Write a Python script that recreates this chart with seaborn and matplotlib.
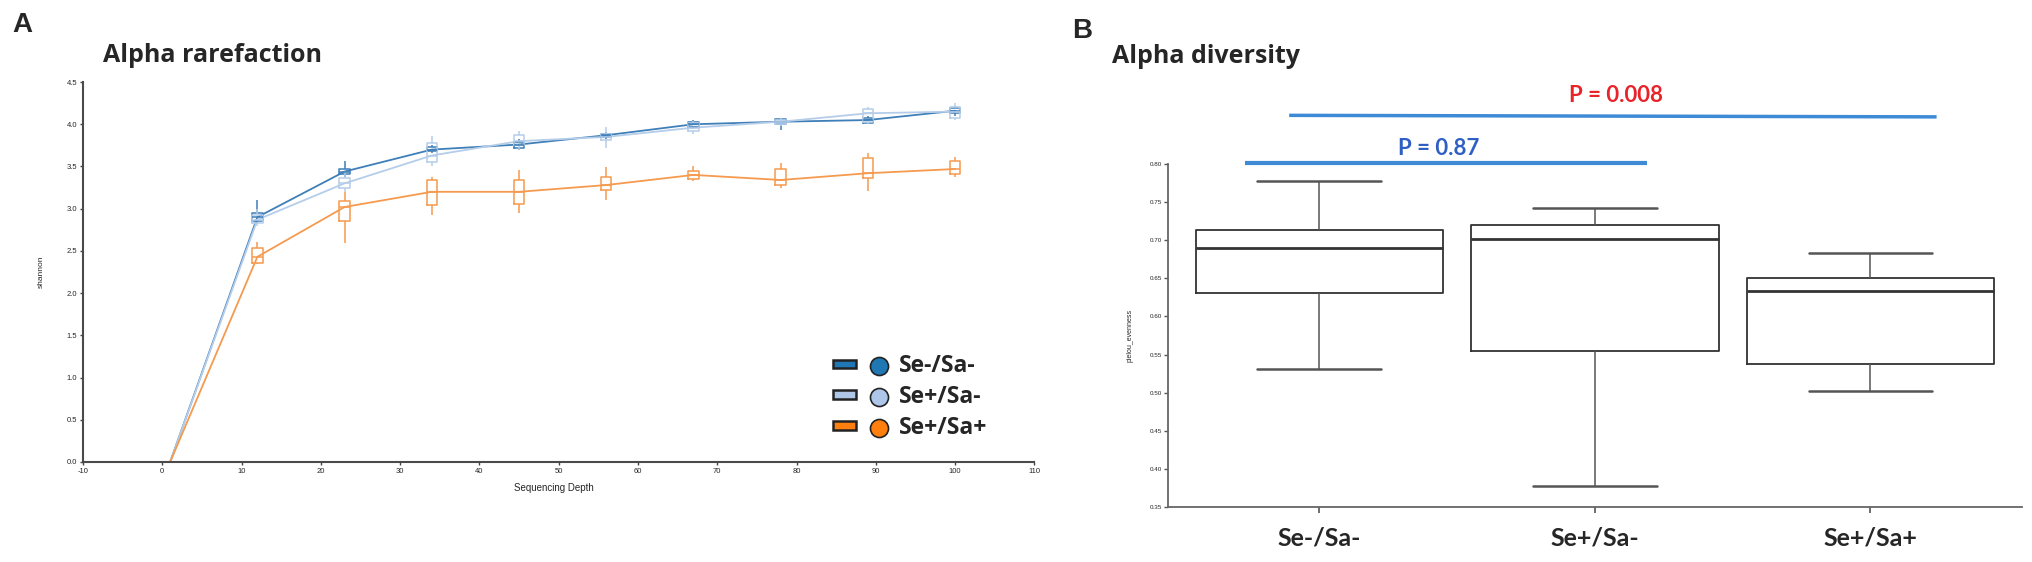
import numpy as np
import pandas as pd
import seaborn as sns
import matplotlib.pyplot as plt
from matplotlib.patches import Patch
from matplotlib.lines import Line2D
from matplotlib.legend_handler import HandlerTuple


GROUPS = ["Se-/Sa-", "Se+/Sa-", "Se+/Sa+"]
GROUP_COLORS = ["#1f77b4", "#aec7e8", "#ff7f0e"]
LINE_COLORS = ["#3f7fb8", "#b5cde9", "#f59a4e"]

# panel A: rarefaction, box summaries at each depth
DEPTHS = [12, 23, 34, 45, 56, 67, 78, 89, 100]
START_DEPTH = 1

SEM_MED = [2.90, 3.44, 3.70, 3.76, 3.87, 4.00, 4.03, 4.05, 4.16]
SEM_Q1 = [2.86, 3.41, 3.68, 3.72, 3.85, 3.97, 4.00, 4.02, 4.13]
SEM_Q3 = [2.95, 3.47, 3.73, 3.79, 3.89, 4.03, 4.06, 4.08, 4.19]
SEM_LO = [2.83, 3.38, 3.66, 3.70, 3.83, 3.95, 3.93, 4.00, 4.10]
SEM_HI = [3.10, 3.56, 3.76, 3.82, 3.91, 4.05, 4.08, 4.10, 4.22]

SEP_MED = [2.87, 3.30, 3.63, 3.80, 3.85, 3.96, 4.03, 4.13, 4.15]
SEP_Q1 = [2.83, 3.24, 3.55, 3.75, 3.81, 3.92, 4.00, 4.03, 4.08]
SEP_Q3 = [2.93, 3.36, 3.78, 3.87, 3.88, 4.01, 4.05, 4.18, 4.20]
SEP_LO = [2.80, 3.20, 3.50, 3.70, 3.72, 3.89, 3.98, 4.00, 4.05]
SEP_HI = [3.00, 3.45, 3.86, 3.92, 3.97, 4.04, 4.07, 4.20, 4.25]

SPP_MED = [2.43, 3.02, 3.20, 3.20, 3.28, 3.40, 3.34, 3.42, 3.47]
SPP_Q1 = [2.36, 2.85, 3.04, 3.05, 3.22, 3.35, 3.28, 3.36, 3.41]
SPP_Q3 = [2.54, 3.09, 3.34, 3.34, 3.37, 3.45, 3.47, 3.60, 3.56]
SPP_LO = [2.34, 2.59, 2.93, 2.95, 3.10, 3.33, 3.25, 3.21, 3.37]
SPP_HI = [2.60, 3.20, 3.38, 3.46, 3.49, 3.50, 3.54, 3.66, 3.61]

# panel B: pielou evenness box summaries (lo, q1, median, q3, hi)
EVEN_LO = [0.531, 0.378, 0.502]
EVEN_Q1 = [0.631, 0.555, 0.538]
EVEN_MED = [0.690, 0.702, 0.634]
EVEN_Q3 = [0.713, 0.720, 0.650]
EVEN_HI = [0.778, 0.742, 0.683]


def _five_rows(lo, q1, med, q3, hi):
    # five values whose quartiles / extremes reproduce the box summary
    return [lo, q1, med, q3, hi]


sns.set_theme(style="ticks")
plt.rcParams["font.family"] = ["Liberation Sans", "DejaVu Sans"]

fig = plt.figure(figsize=(20.33, 5.62), dpi=100)
axA = fig.add_axes([0.0408, 0.178, 0.468, 0.676])
axB = fig.add_axes([0.5745, 0.098, 0.4201, 0.610])

# ---------------- panel A ----------------
summary = {
    "Se-/Sa-": (SEM_LO, SEM_Q1, SEM_MED, SEM_Q3, SEM_HI),
    "Se+/Sa-": (SEP_LO, SEP_Q1, SEP_MED, SEP_Q3, SEP_HI),
    "Se+/Sa+": (SPP_LO, SPP_Q1, SPP_MED, SPP_Q3, SPP_HI),
}
rows = []
line_rows = []
for g in GROUPS:
    lo, q1, med, q3, hi = summary[g]
    line_rows.append({"depth": START_DEPTH, "shannon": 0.0, "group": g})
    for i, d in enumerate(DEPTHS):
        for v in _five_rows(lo[i], q1[i], med[i], q3[i], hi[i]):
            rows.append({"depth": d, "shannon": v, "group": g})
        line_rows.append({"depth": d, "shannon": med[i], "group": g})
dfa = pd.DataFrame(rows)
dfl = pd.DataFrame(line_rows)

sns.lineplot(data=dfl, x="depth", y="shannon", hue="group", hue_order=GROUPS,
             palette=LINE_COLORS, linewidth=1.3, legend=False, ax=axA)
sns.boxplot(data=dfa, x="depth", y="shannon", hue="group", hue_order=GROUPS,
            palette=LINE_COLORS, native_scale=True, dodge=False, fill=False,
            width=0.12, whis=(0, 100), linewidth=1.1, capwidths=0,
            legend=False, ax=axA)

axA.set_xlim(-10, 110)
axA.set_ylim(0, 4.5)
axA.set_xticks(np.arange(-10, 111, 10))
axA.set_yticks(np.arange(0, 4.51, 0.5))
axA.set_xticklabels([str(int(t)) for t in np.arange(-10, 111, 10)])
axA.set_yticklabels([f"{t:.1f}" for t in np.arange(0, 4.51, 0.5)])
axA.tick_params(labelsize=5.5, length=2.5, width=1, color="#444444", pad=1.5)
for s in ["left", "bottom"]:
    axA.spines[s].set_color("#4a4a4a")
    axA.spines[s].set_linewidth(1.5)
sns.despine(ax=axA)
axA.set_xlabel("Sequencing Depth", fontsize=7, labelpad=1)
axA.set_ylabel("shannon", fontsize=6, labelpad=16)
axA.xaxis.set_label_coords(0.495, -0.055)

handles = []
for c in GROUP_COLORS:
    rect = Patch(facecolor=c, edgecolor="#222222", linewidth=1.8)
    dot = Line2D([], [], marker="o", linestyle="none", markersize=13,
                 markerfacecolor=c, markeredgecolor="#222222", markeredgewidth=1.2)
    handles.append((rect, dot))
axA.legend(handles, GROUPS, handler_map={tuple: HandlerTuple(ndivide=None, pad=0.5)},
           loc="center left", bbox_to_anchor=(0.788, 0.171), frameon=False,
           borderpad=0, borderaxespad=0,
           handlelength=2.5, handleheight=0.2, labelspacing=0.3, handletextpad=0.4,
           prop={"family": "Open Sans", "weight": "bold", "size": 16.5})

fig.text(0.006, 0.955, "A", fontsize=20, fontweight="bold", va="center", ha="left")
fig.text(0.0505, 0.902, "Alpha rarefaction", fontsize=18, fontweight="bold",
         family="Open Sans", va="center", ha="left")

# ---------------- panel B ----------------
brows = []
for i, g in enumerate(GROUPS):
    for v in _five_rows(EVEN_LO[i], EVEN_Q1[i], EVEN_MED[i], EVEN_Q3[i], EVEN_HI[i]):
        brows.append({"group": g, "pielou_evenness": v})
dfb = pd.DataFrame(brows)

sns.boxplot(data=dfb, x="group", y="pielou_evenness", order=GROUPS, color="#333333",
            fill=False, width=0.9, whis=(0, 100), linewidth=1.3,
            whiskerprops={"color": "#555555", "linewidth": 1.1},
            capprops={"color": "#555555", "linewidth": 1.8},
            medianprops={"color": "#333333", "linewidth": 2.0},
            ax=axB)
axB.set_xlim(-0.55, 2.55)
axB.set_ylim(0.35, 0.80)
axB.set_yticks(np.arange(0.35, 0.801, 0.05))
axB.set_yticklabels([f"{t:.2f}" for t in np.arange(0.35, 0.801, 0.05)])
axB.tick_params(axis="y", labelsize=4.5, length=3, width=1, color="#555555", pad=1)
axB.tick_params(axis="x", labelsize=18, length=4, width=1.2, color="#555555", pad=10)
for lab in axB.get_xticklabels():
    lab.set_fontfamily("Lato")
    lab.set_fontweight("bold")
for s in ["left", "bottom"]:
    axB.spines[s].set_color("#666666")
    axB.spines[s].set_linewidth(1.3)
sns.despine(ax=axB)
axB.set_xlabel("")
axB.set_ylabel("pielou_evenness", fontsize=5, labelpad=12)

# significance bars
axB.plot([-0.27, 1.19], [0.8013, 0.8013], color="#3d8ad6", linewidth=3, clip_on=False,
         solid_capstyle="butt")
axB.plot([-0.11, 2.24], [0.864, 0.862], color="#3d8ad6", linewidth=2.5, clip_on=False,
         solid_capstyle="butt")
axB.text(0.434, 0.820, "P = 0.87", color="#2f5fc4", fontsize=16, fontweight="bold",
         family="Lato", ha="center", va="center", clip_on=False)
axB.text(1.076, 0.890, "P = 0.008", color="#e8242a", fontsize=16, fontweight="bold",
         family="Lato", ha="center", va="center", clip_on=False)

fig.text(0.5275, 0.945, "B", fontsize=20, fontweight="bold", va="center", ha="left")
fig.text(0.547, 0.900, "Alpha diversity", fontsize=18, fontweight="bold",
         family="Open Sans", va="center", ha="left")

fig.savefig("out.png", dpi=100)
